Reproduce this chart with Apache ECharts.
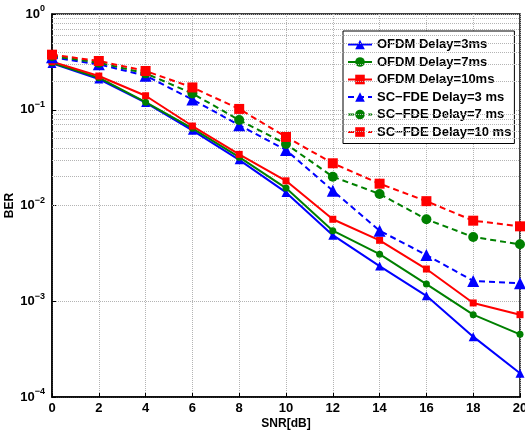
<!DOCTYPE html>
<html><head><meta charset="utf-8">
<script src="https://cdn.jsdelivr.net/npm/echarts@6/dist/echarts.min.js"></script>
<style>html,body{margin:0;padding:0;background:#fff}#c{width:525px;height:432px}</style>
</head><body><div id="c"></div>
<script>
const snr = [0,2,4,6,8,10,12,14,16,18,20];
const ofdm3 = [0.305,0.209,0.119,0.061,0.030,0.0137,0.0049,0.00233,0.00114,0.000427,0.000177];
const ofdm7 = [0.31,0.216,0.120,0.064,0.032,0.0152,0.00546,0.0031,0.00151,0.000724,0.000451];
const ofdm10 = [0.318,0.225,0.140,0.0676,0.0342,0.0181,0.00718,0.00433,0.00217,0.00096,0.000724];
const sc3 = [0.353,0.298,0.227,0.128,0.069,0.038,0.0143,0.00546,0.00304,0.00163,0.00154];
const sc7 = [0.364,0.31,0.24,0.148,0.078,0.0439,0.020,0.0132,0.00718,0.00469,0.00393];
const sc10 = [0.376,0.323,0.254,0.171,0.102,0.052,0.0276,0.0169,0.0111,0.00694,0.00606];
const names = ['OFDM Delay=3ms','OFDM Delay=7ms','OFDM Delay=10ms','SC\u2212FDE Delay=3 ms','SC\u2212FDE Delay=7 ms','SC\u2212FDE Delay=10 ms'];
const minorGrid = [];
[1e-4,1e-3,1e-2,1e-1].forEach(d=>{for(let k=2;k<=9;k++) minorGrid.push(+(k*d).toPrecision(3));});

const FONT = 'Liberation Sans';
function mk(name, vals, color, symbol, size, dashed){
  return {
    name, type:'line', data: snr.map((x,i)=>[x, vals[i]]),
    symbol, symbolSize: size, showSymbol:true,
    lineStyle:{color, width:2, type: dashed ? [6,4] : 'solid'},
    itemStyle:{color},
    z: 5
  };
}
const series = [
  mk(names[0], ofdm3, '#0000ff', 'triangle', 9, false),
  mk(names[1], ofdm7, '#008000', 'circle', 7, false),
  mk(names[2], ofdm10, '#ff0000', 'rect', 7, false),
  mk(names[3], sc3, '#0000ff', 'triangle', 12, true),
  mk(names[4], sc7, '#008000', 'circle', 10, true),
  mk(names[5], sc10, '#ff0000', 'rect', 10, true)
];
series.push({
  name:'grid', type:'line', data:[], silent:true,
  markLine:{silent:true, symbol:'none', label:{show:false},
    lineStyle:{color:'#b4b4b4', type:'dotted', width:1},
    data: minorGrid.map(v=>({yAxis:v}))},
  z:1
});

const chart = echarts.init(document.getElementById('c'));
chart.setOption({
  animation:false,
  backgroundColor:'#fff',
  textStyle:{fontFamily:FONT},
  grid:{left:52, right:5, top:14, bottom:35, show:true, borderColor:'#000', borderWidth:1.5, outerBoundsMode:'none', containLabel:false},
  legend:{
    data:names, orient:'vertical', left:343, top:31,
    padding:[7,3,5,4], itemGap:4.5, itemWidth:24, itemHeight:12,
    borderColor:'#000', borderWidth:1, backgroundColor:'#fff',
    textStyle:{fontFamily:FONT, fontWeight:'bold', fontSize:13, color:'#000'}
  },
  xAxis:{
    type:'value', min:0, max:20, interval:2,
    name:'SNR[dB]', nameLocation:'middle', nameGap:21, nameMoveOverlap:false,
    nameTextStyle:{fontFamily:FONT, fontWeight:'bold', fontSize:12, color:'#000'},
    axisLine:{lineStyle:{color:'#000', width:1.5}},
    axisTick:{inside:true, length:4, lineStyle:{color:'#000'}},
    axisLabel:{fontFamily:FONT, fontWeight:'bold', fontSize:13, color:'#000', margin:5},
    splitLine:{show:true, lineStyle:{color:'#b4b4b4', type:'dotted', width:1}}
  },
  yAxis:{
    type:'log', logBase:10, min:1e-4, max:1,
    name:'BER', nameLocation:'middle', nameGap:36, nameRotate:90, nameMoveOverlap:false,
    nameTextStyle:{fontFamily:FONT, fontWeight:'bold', fontSize:12, color:'#000'},
    axisLine:{lineStyle:{color:'#000', width:1.5}},
    axisTick:{inside:true, length:4, lineStyle:{color:'#000'}},
    axisLabel:{
      margin:7,
      formatter:v=>{const e=Math.round(Math.log10(v)); return '{b|10}{s|'+(e<0?'\u2212'+(-e):e)+'}';},
      rich:{
        b:{fontFamily:FONT, fontWeight:'bold', fontSize:13, color:'#000'},
        s:{fontFamily:FONT, fontWeight:'bold', fontSize:9, color:'#000', padding:[0,0,10,0]}
      }
    },
    splitLine:{show:true, lineStyle:{color:'#b4b4b4', type:'dotted', width:1}}
  },
  series
});
</script></body></html>
